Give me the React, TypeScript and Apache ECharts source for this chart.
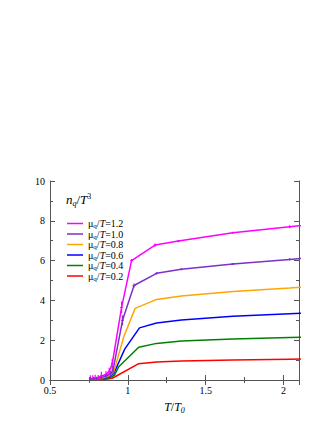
import React, { useEffect, useRef } from "react";
import * as echarts from "echarts";

// T/T0 and n_q/T^3 per curve (mu_q/T)
const magentaT = [0.76, 0.775, 0.79, 0.81, 0.83, 0.86, 0.88, 0.9, 0.96, 1.024, 1.175, 1.325, 1.675, 2.04, 2.2];
const magentaY = [0.06, 0.08, 0.1, 0.13, 0.2, 0.28, 0.42, 0.82, 3.65, 6.0, 6.78, 6.98, 7.4, 7.7, 7.85];
const magentaErr = [0.18, 0.16, 0.16, 0.12, 0.22, 0.16, 0.2, 0.25, 0.3, 0.08, 0.08, 0.06, 0.05, 0.08, 0];

const purpleT = [0.76, 0.78, 0.8, 0.83, 0.86, 0.89, 0.905, 0.966, 1.04, 1.185, 1.344, 1.675, 2.04, 2.2];
const purpleY = [0.04, 0.06, 0.08, 0.12, 0.2, 0.32, 0.5, 3.0, 4.75, 5.36, 5.56, 5.83, 6.06, 6.15];
const purpleErr = [0.1, 0.08, 0.08, 0.1, 0.12, 0.15, 0.2, 0.25, 0.1, 0.06, 0.05, 0.05, 0.06, 0];

const orangeT = [0.77, 0.8, 0.83, 0.86, 0.89, 0.91, 0.975, 1.047, 1.185, 1.344, 1.675, 2.04, 2.2];
const orangeY = [0.03, 0.05, 0.09, 0.15, 0.25, 0.42, 2.2, 3.6, 4.05, 4.22, 4.45, 4.62, 4.7];

const blueT = [0.77, 0.8, 0.83, 0.86, 0.89, 0.91, 0.98, 1.075, 1.185, 1.344, 1.675, 2.04, 2.2];
const blueY = [0.02, 0.04, 0.07, 0.12, 0.2, 0.33, 1.55, 2.62, 2.86, 3.02, 3.2, 3.33, 3.38];

const greenT = [0.77, 0.8, 0.83, 0.86, 0.89, 0.915, 0.94, 1.07, 1.185, 1.344, 1.675, 2.04, 2.2];
const greenY = [0.01, 0.03, 0.05, 0.08, 0.13, 0.25, 0.65, 1.65, 1.84, 1.96, 2.06, 2.14, 2.17];

const redT = [0.78, 0.81, 0.84, 0.87, 0.9, 0.915, 1.07, 1.185, 1.344, 1.675, 2.04, 2.2];
const redY = [0.01, 0.02, 0.03, 0.05, 0.09, 0.15, 0.82, 0.9, 0.96, 1.0, 1.04, 1.06];

const muLabels = ["1.2", "1.0", "0.8", "0.6", "0.4", "0.2"];
const colors = ["#ff00ff", "#7e30c8", "#ffa500", "#0000ff", "#008000", "#ff0000"];

const xTicks = { min: 0.5, max: 2.1, interval: 0.5 };
const yTicks = { min: 0, max: 10, interval: 2 };

const FONT = "'Liberation Serif', 'DejaVu Serif', serif";

function zip(t: number[], y: number[]) {
  return t.map((v, i) => [v, y[i]]);
}

export default function App() {
  const ref = useRef<HTMLDivElement>(null);
  useEffect(() => {
    if (!ref.current) return;
    const chart = echarts.init(ref.current, undefined, { renderer: "svg" });
    const seriesData = [
      zip(magentaT, magentaY),
      zip(purpleT, purpleY),
      zip(orangeT, orangeY),
      zip(blueT, blueY),
      zip(greenT, greenY),
      zip(redT, redY),
    ];
    const lineSeries = seriesData.map((d, i) => ({
      name: muLabels[i],
      type: "line",
      data: d,
      symbol: "none",
      lineStyle: { color: colors[i], width: 1.5 },
      itemStyle: { color: colors[i] },
      z: 10 - i,
    }));
    const errSeries = (t: number[], y: number[], e: number[], color: string) => ({
      type: "custom",
      silent: true,
      data: t.map((v, i) => [v, y[i], y[i] - e[i], y[i] + e[i]]),
      renderItem: (params: any, api: any) => {
        const x = api.value(0);
        const c = api.coord([x, api.value(1)]);
        const lo = api.coord([x, api.value(2)]);
        const hi = api.coord([x, api.value(3)]);
        return {
          type: "group",
          children: [
            {
              type: "line",
              shape: { x1: c[0], y1: lo[1], x2: c[0], y2: hi[1] },
              style: { stroke: color, lineWidth: 1.2 },
            },
            {
              type: "line",
              shape: { x1: c[0] - 1.5, y1: c[1], x2: c[0] + 1.5, y2: c[1] },
              style: { stroke: color, lineWidth: 1 },
            },
          ],
        };
      },
      clip: true,
      z: 11,
    });

    const axisLine = { show: true, lineStyle: { color: "#555", width: 1 } };
    const rich = {
      n: { fontFamily: FONT, fontSize: 10, color: "#000" },
      it: { fontFamily: FONT, fontSize: 10, fontStyle: "italic", color: "#000" },
      sub: { fontFamily: FONT, fontSize: 7, color: "#000", padding: [5, 0, 0, 0] },
      sup: { fontFamily: FONT, fontSize: 7, color: "#000", padding: [0, 0, 5, 0] },
      itL: { fontFamily: FONT, fontSize: 13, fontStyle: "italic", color: "#000" },
      subL: { fontFamily: FONT, fontSize: 8, fontStyle: "italic", color: "#000", padding: [7, 0, 0, 0] },
      supL: { fontFamily: FONT, fontSize: 8, color: "#000", padding: [0, 0, 7, 0] },
      nL: { fontFamily: FONT, fontSize: 13, color: "#000" },
      itX: { fontFamily: FONT, fontSize: 12, fontStyle: "italic", color: "#000" },
      nX: { fontFamily: FONT, fontSize: 12, color: "#000" },
    };

    chart.setOption({
      animation: false,
      backgroundColor: "#fff",
      grid: { left: 50, right: 33, top: 181, bottom: 50 },
      legend: {
        data: muLabels,
        orient: "vertical",
        left: 62,
        top: 213,
        icon: "rect",
        itemWidth: 16,
        itemHeight: 1.5,
        itemGap: -1,
        selectedMode: false,
        formatter: (name: string) => `{n|μ}{sub|q}{n|/}{it|T}{n|=${name}}`,
        textStyle: { fontFamily: FONT, fontSize: 10, rich, lineHeight: 11, height: 11 },
      },
      graphic: [
        {
          type: "text",
          left: 66,
          top: 192,
          style: {
            text: "{itL|n}{subL|q}{nL|/}{itL|T}{supL|3}",
            rich,
          },
        },
      ],
      xAxis: [
        {
          type: "value",
          ...xTicks,
          position: "bottom",
          axisLine,
          splitLine: { show: false },
          axisTick: { inside: true, length: 5, lineStyle: { color: "#555" } },
          minorTick: { show: true, splitNumber: 2, length: 3, lineStyle: { color: "#555" } },
          axisLabel: {
            fontFamily: FONT,
            fontSize: 10,
            color: "#000",
            margin: 5,
            showMaxLabel: false,
            formatter: (v: number) => String(v),
          },
          name: "{itX|T}{nX|/}{itX|T}{subL|0}",
          nameLocation: "middle",
          nameGap: 19,
          nameTextStyle: { rich },
        },
        {
          type: "value",
          ...xTicks,
          position: "top",
          axisLine,
          splitLine: { show: false },
          axisTick: { inside: true, length: 5, lineStyle: { color: "#555" } },
          minorTick: { show: true, splitNumber: 2, length: 3, lineStyle: { color: "#555" } },
          axisLabel: { show: false },
        },
      ],
      yAxis: [
        {
          type: "value",
          ...yTicks,
          position: "left",
          axisLine,
          splitLine: { show: false },
          axisTick: { inside: true, length: 5, lineStyle: { color: "#555" } },
          minorTick: { show: true, splitNumber: 2, length: 3, lineStyle: { color: "#555" } },
          axisLabel: { fontFamily: FONT, fontSize: 10, color: "#000", margin: 5 },
        },
        {
          type: "value",
          ...yTicks,
          position: "right",
          axisLine,
          splitLine: { show: false },
          axisTick: { inside: true, length: 5, lineStyle: { color: "#555" } },
          minorTick: { show: true, splitNumber: 2, length: 3, lineStyle: { color: "#555" } },
          axisLabel: { show: false },
        },
      ],
      series: [
        ...lineSeries,
        errSeries(magentaT, magentaY, magentaErr, colors[0]),
        errSeries(purpleT, purpleY, purpleErr, colors[1]),
      ],
    });
    return () => chart.dispose();
  }, []);
  return <div ref={ref} style={{ width: 332, height: 430, position: "absolute", left: 0, top: 0 }} />;
}
